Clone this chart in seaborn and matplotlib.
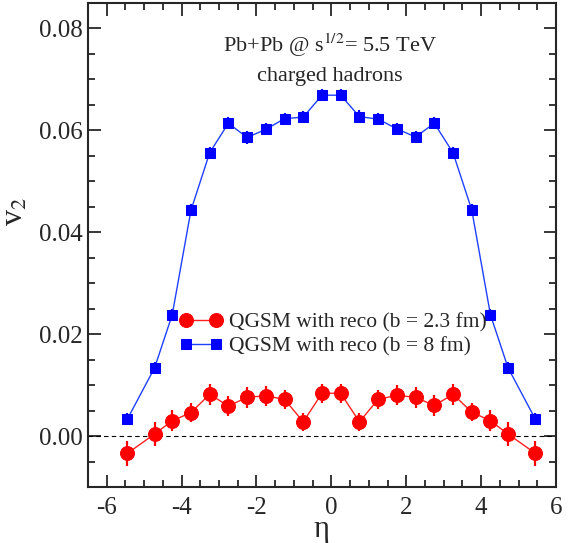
#!/usr/bin/env python3
import numpy as np
import seaborn as sns
import pandas as pd
import matplotlib.pyplot as plt
from matplotlib.ticker import MultipleLocator

# eta bins
eta = [-5.45, -4.72, -4.25, -3.75, -3.25, -2.75, -2.25, -1.75, -1.25, -0.75, -0.25,
       0.25, 0.75, 1.25, 1.75, 2.25, 2.75, 3.25, 3.75, 4.25, 4.72, 5.45]
# QGSM with reco, b = 2.3 fm
v2_b23 = [-0.0034, 0.0004, 0.0030, 0.0046, 0.0082, 0.0059, 0.0076, 0.0079, 0.0072, 0.0028, 0.0084,
          0.0084, 0.0028, 0.0072, 0.0080, 0.0076, 0.0060, 0.0082, 0.0047, 0.0030, 0.0004, -0.0034]
err_b23 = [0.0025, 0.0023, 0.0021, 0.0018, 0.0021, 0.0020, 0.0020, 0.0020, 0.0019, 0.0018, 0.0019,
           0.0019, 0.0018, 0.0019, 0.0020, 0.0020, 0.0020, 0.0021, 0.0018, 0.0021, 0.0023, 0.0025]
# QGSM with reco, b = 8 fm
v2_b8 = [0.0033, 0.0134, 0.0238, 0.0443, 0.0556, 0.0614, 0.0586, 0.0602, 0.0623, 0.0626, 0.0669,
         0.0669, 0.0627, 0.0622, 0.0603, 0.0587, 0.0614, 0.0556, 0.0444, 0.0238, 0.0134, 0.0033]
err_b8 = [0.0012] * len(eta)

df = pd.DataFrame({"eta": eta, "v2_b23": v2_b23, "v2_b8": v2_b8})

sns.set_style("ticks")
plt.rcParams['font.family'] = ['Liberation Serif', 'DejaVu Serif']
plt.rcParams['mathtext.fontset'] = 'stix'

fig = plt.figure(figsize=(5.72, 5.43), dpi=100)
ax = fig.add_axes([0.1538, 0.1031, 0.8182, 0.8914])

ax.axhline(0, color='black', lw=0.8, ls=(0, (4, 3)), zorder=1)

ax.errorbar(eta, v2_b23, yerr=err_b23, fmt='none', ecolor='red', elinewidth=1.6, capsize=0, zorder=2)
ax.errorbar(eta, v2_b8, yerr=err_b8, fmt='none', ecolor='blue', elinewidth=1.6, capsize=0, zorder=2)

sns.lineplot(data=df, x="eta", y="v2_b23", color='#ff2020', lw=1.0, marker='o', markersize=10,
             markerfacecolor='red', markeredgecolor='red', ax=ax, label='QGSM with reco (b = 2.3 fm)',
             zorder=3)
sns.lineplot(data=df, x="eta", y="v2_b8", color='#2040ff', lw=1.0, marker='s', markersize=7.5,
             markerfacecolor='blue', markeredgecolor='blue', ax=ax, label='QGSM with reco (b = 8 fm)',
             zorder=3)

ax.set_xlim(-6.5, 6)
ax.set_ylim(-0.01, 0.085)
ax.xaxis.set_major_locator(MultipleLocator(2))
ax.xaxis.set_minor_locator(MultipleLocator(0.5))
ax.yaxis.set_major_locator(MultipleLocator(0.02))
ax.yaxis.set_minor_locator(MultipleLocator(0.005))
ax.set_yticks([0.0, 0.02, 0.04, 0.06, 0.08])
ax.set_yticklabels(['0.00', '0.02', '0.04', '0.06', '0.08'])
ax.set_xticks([-6, -4, -2, 0, 2, 4, 6])
ax.set_xticklabels(['-6', '-4', '-2', '0', '2', '4', '6'])
ax.tick_params(which='both', direction='in', top=True, right=True, width=1.3, labelsize=18)
ax.tick_params(axis='x', pad=7)
ax.tick_params(axis='y', pad=4)
ax.tick_params(which='major', length=9)
ax.tick_params(which='minor', length=5)
for s in ax.spines.values():
    s.set_linewidth(1.5)

ax.set_xlabel('η', fontsize=22, labelpad=-3)
ax.set_ylabel(r'v$_{\mathrm{2}}$', fontsize=23)
ax.yaxis.set_label_coords(-0.125, 0.57)

ax.text(0.517, 0.912, r'Pb+Pb @ s$^{\mathrm{1/2}}$= 5.5 TeV', transform=ax.transAxes,
        ha='center', va='center', fontsize=16)
ax.text(0.517, 0.848, 'charged hadrons', transform=ax.transAxes,
        ha='center', va='center', fontsize=16)

ax.legend(loc='upper left', bbox_to_anchor=(0.195, 0.36), frameon=False, fontsize=15.5,
          numpoints=2, handlelength=2.0, handletextpad=0.3, labelspacing=0.15, borderpad=0,
          borderaxespad=0)

fig.savefig('out.png', dpi=100)
